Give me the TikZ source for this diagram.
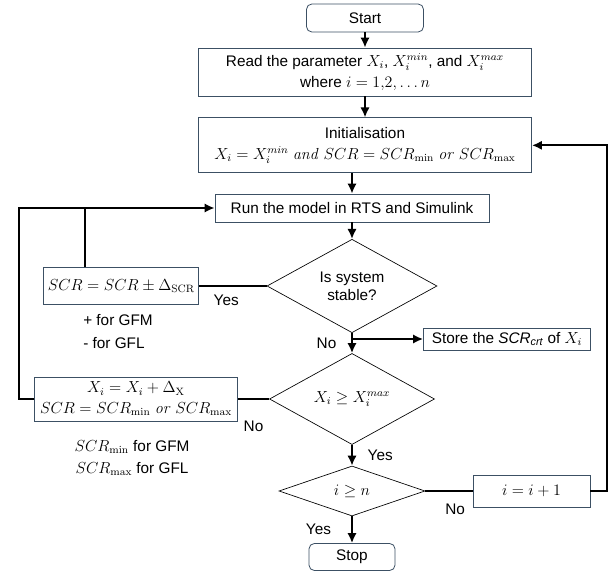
\documentclass[tikz,border=0pt]{standalone}
\usepackage{amsmath}
\usepackage[no-math]{fontspec}
\setmainfont{Liberation Sans}
\usetikzlibrary{arrows.meta,shapes.geometric,calc}
\definecolor{boxline}{RGB}{60,80,100}
\tikzset{
    block/.style = {draw=boxline, line width=0.6pt, rectangle, inner sep=1pt, align=center},
    term/.style = {block, rounded corners=4pt},
    decision/.style = {draw, diamond, line width=0.5pt, inner sep=0pt, align=center,
        font=\fontsize{11.5}{13.5}\selectfont},
    line/.style = {draw, line width=1.5pt},
    arrow/.style = {line, -{Latex[length=7.5pt,width=7pt]}},
    note/.style = {inner sep=0pt}
}

\begin{document}
\begin{tikzpicture}[x=0.75pt, y=0.75pt, node distance=40pt, font=\fontsize{11.5}{15.5}\selectfont]
    \useasboundingbox (0,0) rectangle (611,-573);
        \node [term, minimum width=87.75pt, minimum height=21pt] (start) at (365,-18) {Start};
        \node [block, below of=start, node distance=40.5pt, minimum width=249.75pt, minimum height=36pt] (read) {Read the parameter $X_i$, $X_i^{min}$, and $X_i^{max}$\\ where $i = 1{,}2, \ldots n$};
        \node [block, below of=read, node distance=55pt, minimum width=249.75pt, minimum height=41.25pt] (init) {Initialisation\\ $X_i = X_i^{min}\ \mathit{and}\ SCR = SCR_{\mathrm{min}}\ \mathit{or}\ SCR_{\mathrm{max}}$};
        \node [block, minimum width=205.5pt, minimum height=21pt] (run) at (352,-208) {Run the model in RTS and Simulink};
        \node [decision, below of=run, node distance=58.5pt, minimum width=127.5pt, minimum height=64.5pt] (stable) {Is system\\ stable?};
        \node [block, left of=stable, node distance=173pt, minimum width=116.25pt, minimum height=27.75pt] (scr) {$SCR = SCR \pm \Delta_{\mathrm{SCR}}$};
        \node [block, minimum width=125.25pt, minimum height=16.5pt] (store) at (507,-339) {Store the \textit{SCR\textsubscript{crt}} of $X_i$};
        \node [decision, below of=stable, node distance=84.75pt, minimum width=123.75pt, minimum height=52.5pt] (maxchk) {$X_i \geq X_i^{max}$};
        \node [block, left of=maxchk, node distance=162pt, minimum width=152.25pt, minimum height=33pt] (incx) {$X_i = X_i + \Delta_{\mathrm{X}}$\\ $SCR = SCR_{\mathrm{min}}\ \mathit{or}\ SCR_{\mathrm{max}}$};
        \node [decision, below of=maxchk, node distance=69pt, minimum width=109.5pt, minimum height=37.5pt] (nchk) {$i \geq n$};
        \node [block, right of=nchk, node distance=134.6pt, minimum width=87.75pt, minimum height=24pt] (inci) {$i = i + 1$};
        \node [term, below of=nchk, node distance=49.5pt, minimum width=64.5pt, minimum height=20.25pt] (stop) {Stop};
        \node [coordinate, right of=inci, node distance=56.6pt] (cornerR) {};
        \node [coordinate, left of=incx, node distance=87.75pt] (cornerL) {};
        % notes beside the boxes
        \node [note, anchor=west, align=left, font=\fontsize{11.5}{17}\selectfont] (signs) at (83,-331.5) {+ for GFM\\- for GFL};
        \node [note, align=center, font=\fontsize{11.5}{16.5}\selectfont] (limits) at (132,-458) {$SCR_{\mathrm{min}}$ for GFM\\ $SCR_{\mathrm{max}}$\ for GFL};
        % connectors
        \draw [arrow] (start) -- (read);
        \draw [arrow] (read) -- (init);
        \draw [arrow] (init.south -| run) -- (run);
        \draw [arrow] (run) -- (stable);
        \draw [line] (stable.west) -- node[note, pos=0.6, below=6pt] {Yes} (scr.east);
        \draw [line] ([xshift=-27pt]scr.north) -- ([xshift=-27pt]scr.north |- run.west);
        \draw [arrow] (incx.west) -- (cornerL) |- (run.west);
        \draw [arrow] (stable) -- node[note, left=11pt] {No} (maxchk);
        \draw [arrow] (stable.south |- store.west) -- (store.west);
        \draw [line] (maxchk.west) -- node[note, below=16pt] {No} (incx.east);
        \draw [arrow] (maxchk) -- node[note, right=11pt] {Yes} (nchk);
        \draw [line] (nchk.east) -- node[note, pos=0.63, below=9pt] {No} (inci.west);
        \draw [arrow] (inci.east) -- (cornerR) |- (init.east);
        \draw [arrow] (nchk) -- node[note, left=15pt] {Yes} (stop);
\end{tikzpicture}
\end{document}
